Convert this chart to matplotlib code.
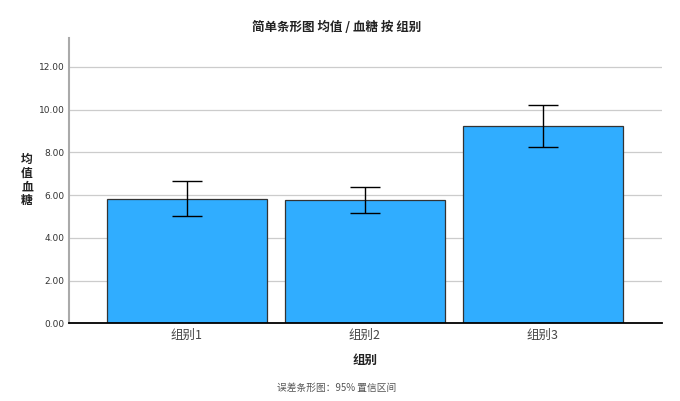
import matplotlib
matplotlib.use("Agg")
import matplotlib.pyplot as plt

plt.rcParams['font.family'] = ['Noto Sans CJK SC', 'DejaVu Sans']

categories = ["组别1", "组别2", "组别3"]
means = [5.81, 5.78, 9.21]
ci_low = [5.03, 5.16, 8.23]
ci_high = [6.65, 6.39, 10.20]
yticks = [0, 2, 4, 6, 8, 10, 12]

fig = plt.figure(figsize=(6.8, 4.01), dpi=100)
ax = fig.add_axes([69/680, 1-323.3/401, (662-69)/680, (323.3-38)/401])

x = list(range(len(categories)))
err_lo = [m - l for m, l in zip(means, ci_low)]
err_hi = [h - m for m, h in zip(means, ci_high)]
ax.bar(x, means, width=0.9, color='#30ADFF', edgecolor='#333333', linewidth=0.9, zorder=3)
ax.errorbar(x, means, yerr=[err_lo, err_hi], fmt='none', ecolor='black',
            elinewidth=1.0, capsize=10.8, capthick=1.0, zorder=4)

ax.set_xlim(-0.663, 2.67)
ax.set_ylim(0, 13.35)
ax.set_yticks(yticks)
ax.set_yticklabels([f"{v:.2f}" for v in yticks], fontsize=6.5, color='#333333',
                   family=['DejaVu Sans'])
ax.set_xticks(x)
ax.set_xticklabels(categories, fontsize=9, color='#444444')
ax.tick_params(axis='both', length=0)
ax.tick_params(axis='y', pad=3)
ax.tick_params(axis='x', pad=4)
ax.yaxis.grid(True, color='#cccccc', linewidth=0.9, zorder=0)
ax.set_axisbelow(True)
for s in ['top', 'right']:
    ax.spines[s].set_visible(False)
ax.spines['left'].set_color('#aaaaaa')
ax.spines['left'].set_linewidth(1.5)
ax.spines['bottom'].set_color('black')
ax.spines['bottom'].set_linewidth(1.3)
ax.spines['bottom'].set_zorder(5)

fig.text(337/680, 1-27/401, "简单条形图 均值 / 血糖 按 组别", ha='center', va='center',
         fontsize=9, fontweight='bold', color='#222222')
fig.text(27/680, 1-180/401, "均\n值\n血\n糖", ha='center', va='center',
         fontsize=8.5, fontweight='bold', color='#222222', linespacing=1.05)
fig.text(365/680, 1-360/401, "组别", ha='center', va='center',
         fontsize=9, fontweight='bold', color='#222222')
fig.text(337/680, 1-388/401, "误差条形图：95% 置信区间", ha='center', va='center',
         fontsize=7, color='#555555')

fig.savefig("out.png", dpi=100)
